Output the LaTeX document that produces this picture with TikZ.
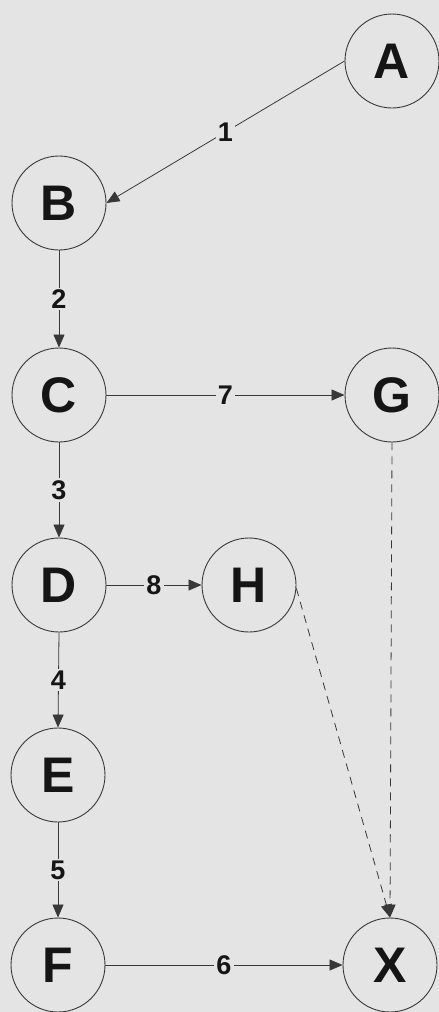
\documentclass[tikz,border=0pt]{standalone}
\usepackage{fontspec}
\setmainfont{Liberation Sans}
\usetikzlibrary{arrows.meta}
\definecolor{bg}{HTML}{E4E4E4}
\definecolor{ink}{HTML}{151515}
\tikzset{
  vert/.style={circle, draw=ink!85, line width=0.9pt, minimum size=94pt, inner sep=0pt,
    font=\fontsize{50}{50}\selectfont\bfseries, text=ink},
  edge/.style={draw=ink!85, line width=0.8pt, -{Triangle[length=13pt,width=11pt]}},
  dashedge/.style={edge, dash pattern=on 8pt off 6pt},
  lab/.style={fill=bg, inner sep=2pt, font=\fontsize{27}{27}\selectfont\bfseries, text=ink}
}
\begin{document}
\begin{tikzpicture}[x=1pt,y=-1pt]
\fill[bg] (0,0) rectangle (439,1012);
\useasboundingbox (0,0) rectangle (439,1012);
\node[vert] (A) at (392,61) {A};
\node[vert] (B) at (59,203) {B};
\node[vert] (C) at (59,395) {C};
\node[vert] (G) at (392,395) {G};
\node[vert] (D) at (59,585) {D};
\node[vert] (H) at (249,585) {H};
\node[vert] (E) at (58,775) {E};
\node[vert] (F) at (58,965) {F};
\node[vert] (X) at (390,965) {X};
\draw[edge] (A.west) -- node[lab] {1} (B.east);
\draw[edge] (B.south) -- node[lab] {2} (C.north);
\draw[edge] (C.east) -- node[lab] {7} (G.west);
\draw[edge] (C.south) -- node[lab] {3} (D.north);
\draw[edge] (D.east) -- node[lab] {8} (H.west);
\draw[edge] (D.south) -- node[lab] {4} (E.north);
\draw[edge] (E.south) -- node[lab] {5} (F.north);
\draw[edge] (F.east) -- node[lab] {6} (X.west);
\draw[dashedge] (H.-4) -- (X.north);
\draw[dashedge] (G.south) -- (X.north);
\end{tikzpicture}
\end{document}
